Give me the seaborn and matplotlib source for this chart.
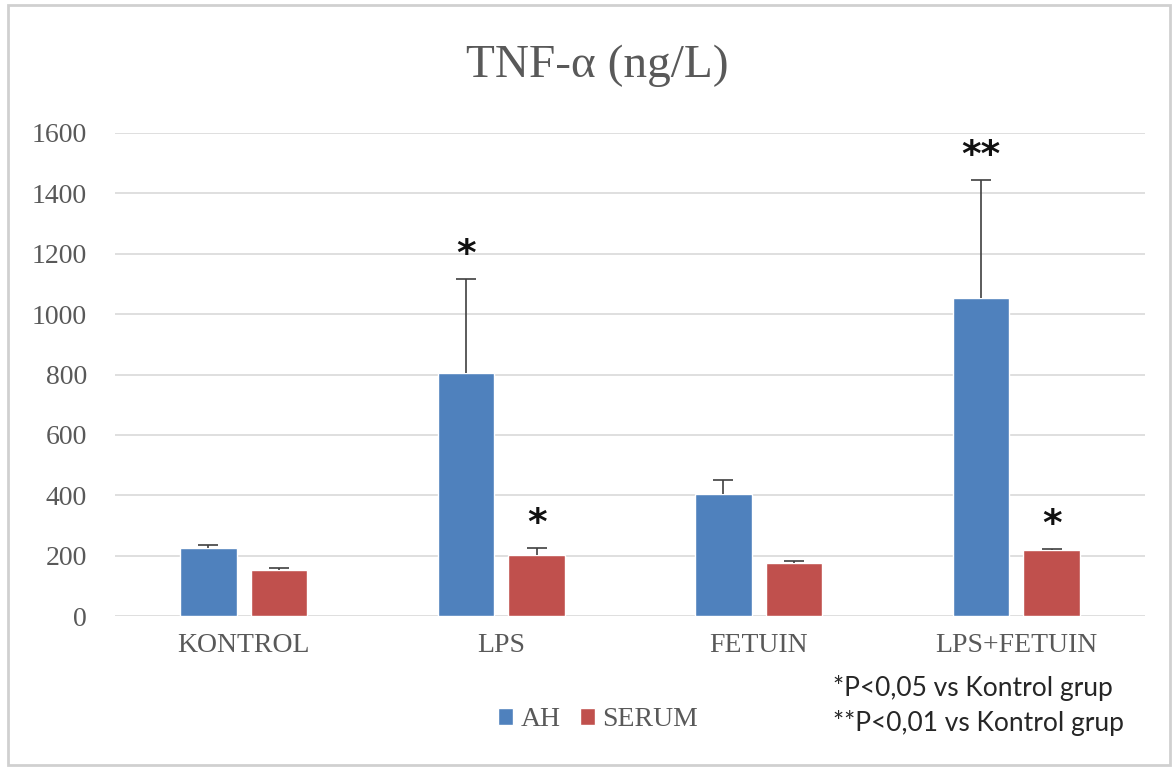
import numpy as np
import pandas as pd
import matplotlib
matplotlib.use("Agg")
import matplotlib.pyplot as plt
from matplotlib.patches import Rectangle
import seaborn as sns

groups = ["KONTROL", "LPS", "FETUIN", "LPS+FETUIN"]
series = ["AH", "SERUM"]
ah_mean = [225, 805, 405, 1055]
ah_err = [10, 312, 47, 388]
serum_mean = [152, 202, 175, 220]
serum_err = [8, 22, 7, 3]
ah_sig = ["", "*", "", "**"]
serum_sig = ["", "*", "", "*"]
notes = ["*P<0,05 vs Kontrol grup", "**P<0,01 vs Kontrol grup"]

colors = ["#4F81BD", "#C0504D"]
grey = "#595959"
serif = "Liberation Serif"

df = pd.DataFrame({
    "grup": groups * 2,
    "seri": [series[0]] * 4 + [series[1]] * 4,
    "deger": ah_mean + serum_mean,
})

sns.set_theme(style="white")
plt.rcParams["font.family"] = [serif, "DejaVu Sans"]

fig = plt.figure(figsize=(11.76, 7.71), dpi=100)
ax = fig.add_axes([115 / 1176, 1 - 616 / 771, 1030 / 1176, 483 / 771])

sns.barplot(data=df, x="grup", y="deger", hue="seri", palette=colors,
            width=0.55, gap=0.2, errorbar=None, saturation=1, ax=ax)

errs = [ah_err, serum_err]
sigs = [ah_sig, serum_sig]
for cont, err, sig in zip(ax.containers, errs, sigs):
    xs = [b.get_x() + b.get_width() / 2 for b in cont]
    hs = [b.get_height() for b in cont]
    eb = ax.errorbar(xs, hs, yerr=[np.zeros(len(err)), err], fmt="none",
                     ecolor="#404040", elinewidth=1.2, capsize=7, capthick=1.2)
    # only the upper cap, like the original
    eb.lines[1][0].set_visible(False)
    for x, h, e, s in zip(xs, hs, err, sig):
        if s:
            ax.text(x, h + e + 80, s, ha="center", va="center",
                    fontsize=27, fontweight="bold", color="#111111",
                    family="DejaVu Sans")

ax.set_ylim(0, 1600)
ax.set_xlim(-0.5, 3.5)
ax.set_yticks(range(0, 1601, 200))
ax.yaxis.grid(True, color="#d9d9d9", linewidth=1.2)
ax.set_axisbelow(True)
for s in ax.spines.values():
    s.set_visible(False)
ax.tick_params(axis="both", length=0, labelsize=20, labelcolor=grey)
ax.tick_params(axis="y", pad=20)
ax.tick_params(axis="x", pad=12)
ax.set_xlabel("")
ax.set_ylabel("")

handles, labels = ax.get_legend_handles_labels()
ax.get_legend().remove()
fig.legend(handles, labels, loc="center", bbox_to_anchor=(598 / 1176, 1 - 720 / 771),
           ncol=2, frameon=False, fontsize=20, handlelength=0.55, handleheight=0.55,
           handletextpad=0.25, columnspacing=0.7, labelcolor=grey)

fig.text(597 / 1176, 1 - 66 / 771, "TNF-\u03b1 (ng/L)", ha="center", va="center",
         fontsize=34, color=grey, family=serif)

for i, n in enumerate(notes):
    fig.text(833 / 1176, 1 - (688 + 35 * i) / 771, n, ha="left", va="center",
             fontsize=19, color="#262626", family="Lato")

fig.patches.append(Rectangle((8 / 1176, 6 / 771), 1162 / 1176, 760 / 771,
                             transform=fig.transFigure, fill=False,
                             edgecolor="#d0d0d0", linewidth=2))

fig.savefig("out.png", dpi=100)
